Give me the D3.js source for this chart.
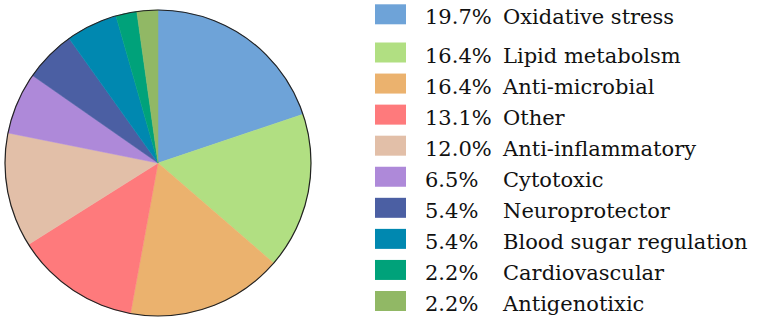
<!DOCTYPE html>
<html>
<head>
<meta charset="utf-8">
<script src="https://cdn.jsdelivr.net/npm/d3@7"></script>
<style>
  body { margin: 0; background: #fff; }
</style>
</head>
<body>
<svg class="pie" width="757" height="322"></svg>
<script>
const categories = ["Oxidative stress", "Lipid metabolsm", "Anti-microbial", "Other",
    "Anti-inflammatory", "Cytotoxic", "Neuroprotector", "Blood sugar regulation",
    "Cardiovascular", "Antigenotixic"];
const percents = [19.7, 16.4, 16.4, 13.1, 12.0, 6.5, 5.4, 5.4, 2.2, 2.2];
const percentLabels = ["19.7%", "16.4%", "16.4%", "13.1%", "12.0%", "6.5%", "5.4%", "5.4%", "2.2%", "2.2%"];
const colors = ["#6ea3d8", "#b1df82", "#ebb26e", "#fe7a7c", "#e2bfa8",
    "#ae89d9", "#4b5fa3", "#0088b0", "#00a27a", "#91b865"];

const cx = 158, cy = 163, radius = 153;
const serif = "'DejaVu Serif', serif";

let svg = d3.select("svg.pie");

const pie = d3.pie().sort(null).value(d => d);
const arc = d3.arc().innerRadius(0).outerRadius(radius);

let chart = svg.append("g")
    .attr("transform", "translate(" + cx + ", " + cy + ")");

chart.selectAll("path")
    .data(pie(percents))
    .enter()
    .append("path")
    .attr("d", arc)
    .attr("fill", (d, i) => colors[i])
    .attr("stroke", (d, i) => colors[i])
    .attr("stroke-width", 0.5);

chart.append("circle")
    .attr("r", radius)
    .attr("fill", "none")
    .attr("stroke", "#222")
    .attr("stroke-width", 1.2);

// legend rows: first row sits a bit higher than the evenly spaced rest
const rowY = d3.scaleLinear().domain([1, categories.length - 1]).range([52.5, 301]);
const yOf = i => i === 0 ? 14.3 : rowY(i);

let legend = svg.append("g").attr("class", "legend");

let rows = legend.selectAll("g")
    .data(categories)
    .enter()
    .append("g")
    .attr("transform", (d, i) => "translate(0, " + yOf(i) + ")");

rows.append("rect")
    .attr("x", 375)
    .attr("y", -10)
    .attr("width", 31)
    .attr("height", 20)
    .attr("fill", (d, i) => colors[i]);

rows.append("text")
    .attr("x", 425)
    .attr("y", 10)
    .style("font-family", serif)
    .style("font-size", "21px")
    .attr("fill", "#111")
    .text((d, i) => percentLabels[i]);

rows.append("text")
    .attr("x", 503)
    .attr("y", 10)
    .style("font-family", serif)
    .style("font-size", "21px")
    .attr("fill", "#111")
    .text(d => d);
</script>
</body>
</html>
